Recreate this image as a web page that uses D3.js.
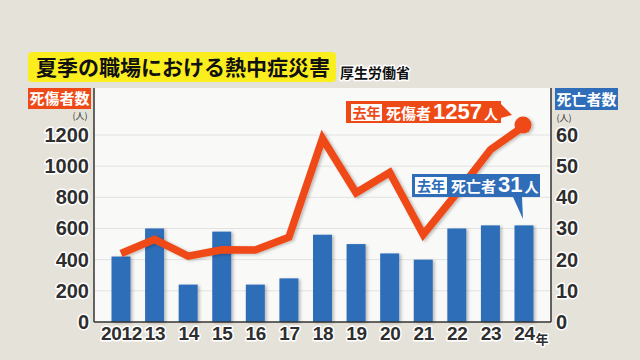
<!DOCTYPE html>
<html><head><meta charset="utf-8">
<script src="https://cdn.jsdelivr.net/npm/d3@7"></script>
<style>
html,body{margin:0;padding:0;background:#e5e2da;}
svg{display:block;font-family:"Noto Sans CJK JP","Noto Sans",sans-serif;}
.halo{paint-order:stroke;stroke:#fff;stroke-width:3px;stroke-linejoin:round;}
</style></head>
<body>
<svg id="c" width="640" height="360"></svg>
<script>
const years = ["2012","13","14","15","16","17","18","19","20","21","22","23","24"];
const casualties = [440,530,423,464,462,544,1178,829,959,561,827,1106,1257];
const deaths = [21,30,12,29,12,14,28,25,22,20,30,31,31];
const leftTicks = [0,200,400,600,800,1000,1200];
const rightTicks = [0,10,20,30,40,50,60];
const title = "夏季の職場における熱中症災害";
const source = "厚生労働省";

const svg = d3.select("#c");
const W = 640, H = 360;
const plot = {l:94, r:551, t:88, b:322};
const ORANGE = "#ee4a17", BLUE = "#2f6db8";
const NUMFONT = "'Liberation Sans',Arial,sans-serif";

svg.append("rect").attr("width",W).attr("height",H).attr("fill","#e5e2da");

const defs = svg.append("defs");
const f = defs.append("filter").attr("id","sh").attr("x","-20%").attr("y","-20%").attr("width","160%").attr("height","160%");
f.append("feDropShadow").attr("dx",2).attr("dy",1).attr("stdDeviation",1.5).attr("flood-color","#000").attr("flood-opacity",0.25);

const x = d3.scalePoint().domain(years).range([121,524]);
const yL = d3.scaleLinear().domain([0,1200]).range([322,135]);
const yR = d3.scaleLinear().domain([0,60]).range([322,135]);

svg.append("rect").attr("x",plot.l).attr("y",plot.t).attr("width",plot.r-plot.l).attr("height",plot.b-plot.t).attr("fill","#f9f9f8");

svg.append("g").selectAll("line").data(leftTicks.filter(d=>d>0)).join("line")
  .attr("x1",plot.l).attr("x2",plot.r).attr("y1",d=>yL(d)).attr("y2",d=>yL(d))
  .attr("stroke","#e2e2e2").attr("stroke-width",1);

const bw = 19;
svg.append("g").attr("filter","url(#sh)").selectAll("rect").data(deaths).join("rect")
  .attr("x",(d,i)=>x(years[i])-bw/2).attr("width",bw)
  .attr("y",d=>yR(d)).attr("height",d=>yR(0)-yR(d)).attr("fill",BLUE);

const line = d3.line().x((d,i)=>x(years[i])).y(d=>yL(d));
const lg = svg.append("g").attr("filter","url(#sh)");
lg.append("path").datum(casualties).attr("d",line).attr("fill","none")
  .attr("stroke",ORANGE).attr("stroke-width",7.5).attr("stroke-linejoin","miter").attr("stroke-linecap","butt");
lg.append("circle").attr("cx",x(years[years.length-1])-1).attr("cy",yL(casualties[casualties.length-1])-1).attr("r",8.5).attr("fill",ORANGE);

svg.append("line").attr("x1",plot.l).attr("x2",plot.l).attr("y1",plot.t).attr("y2",plot.b).attr("stroke","#333").attr("stroke-width",1.5);
svg.append("line").attr("x1",plot.r).attr("x2",plot.r).attr("y1",plot.t).attr("y2",plot.b).attr("stroke","#333").attr("stroke-width",1.5);
svg.append("line").attr("x1",plot.l).attr("x2",plot.r).attr("y1",plot.b).attr("y2",plot.b).attr("stroke","#333").attr("stroke-width",1.5);

function styleTicks(sel, size){
  sel.selectAll("text").attr("class","halo").attr("font-size",size).attr("font-weight",700)
    .attr("fill","#2e2e2e").attr("font-family",NUMFONT);
}
const axL = svg.append("g").attr("transform",`translate(${plot.l},0)`)
  .call(d3.axisLeft(yL).tickValues(leftTicks).tickFormat(d3.format("d")).tickSize(0).tickPadding(5));
axL.select(".domain").remove();
styleTicks(axL, 20);

const axR = svg.append("g").attr("transform",`translate(${plot.r},0)`)
  .call(d3.axisRight(yR).tickValues(rightTicks).tickFormat(d3.format("d")).tickSize(0).tickPadding(5));
axR.select(".domain").remove();
styleTicks(axR, 20);

const axB = svg.append("g").attr("transform",`translate(0,${plot.b})`)
  .call(d3.axisBottom(x).tickSize(0).tickPadding(5));
axB.select(".domain").remove();
styleTicks(axB, 19);
axB.selectAll("text").attr("letter-spacing","-0.3");
svg.append("text").attr("class","halo").attr("x",542).attr("y",344).attr("text-anchor","middle")
  .attr("font-size",13).attr("font-weight",700).attr("fill","#2e2e2e").text("年");

svg.append("text").attr("x",80).attr("y",119).attr("text-anchor","middle").attr("font-size",9).attr("fill","#333").text("(人)");
svg.append("text").attr("x",564).attr("y",121).attr("text-anchor","middle").attr("font-size",9).attr("fill","#333").text("(人)");

svg.append("rect").attr("x",28).attr("y",88).attr("width",63).attr("height",21).attr("fill",ORANGE);
svg.append("text").attr("x",59.5).attr("y",104).attr("text-anchor","middle").attr("font-size",15).attr("font-weight",700).attr("fill","#fff").text("死傷者数");
svg.append("rect").attr("x",555).attr("y",88).attr("width",63).attr("height",22).attr("fill",BLUE);
svg.append("text").attr("x",586.5).attr("y",104.5).attr("text-anchor","middle").attr("font-size",15).attr("font-weight",700).attr("fill","#fff").text("死亡者数");

svg.append("rect").attr("x",28).attr("y",52).attr("width",308).attr("height",30).attr("rx",4).attr("fill","#fbee1f");
svg.append("text").attr("x",36).attr("y",75).attr("font-size",21).attr("font-weight",700).attr("fill","#111").text(title);
svg.append("text").attr("class","halo").attr("x",340).attr("y",78).attr("font-size",14).attr("font-weight",700).attr("fill","#111").text(source);

const oc = svg.append("g");
oc.append("path").attr("d","M346,101 H501 V104 L512,115 L501,118 V123 H346 Z").attr("fill",ORANGE);
oc.append("rect").attr("x",351).attr("y",104).attr("width",31).attr("height",17).attr("fill","#fff");
oc.append("text").attr("x",366.5).attr("y",117.5).attr("text-anchor","middle").attr("font-size",14).attr("font-weight",700).attr("fill",ORANGE).text("去年");
oc.append("text").attr("x",386).attr("y",119).attr("font-weight",700).attr("fill","#fff")
  .call(t=>{
    t.append("tspan").attr("font-size",15).text("死傷者");
    t.append("tspan").attr("font-size",22).attr("dx",2).attr("font-family",NUMFONT).text(String(casualties[casualties.length-1]));
    t.append("tspan").attr("font-size",14).attr("dx",2).text("人");
  });

const bc = svg.append("g");
bc.append("path").attr("d","M412,174 H540 V197 H522 L523,219 L513,197 H412 Z").attr("fill",BLUE);
bc.append("rect").attr("x",415).attr("y",177).attr("width",32).attr("height",17).attr("fill","#fff");
bc.append("text").attr("x",431).attr("y",190.5).attr("text-anchor","middle").attr("font-size",14).attr("font-weight",700).attr("fill",BLUE).text("去年");
bc.append("text").attr("x",451).attr("y",192).attr("font-weight",700).attr("fill","#fff")
  .call(t=>{
    t.append("tspan").attr("font-size",15).text("死亡者");
    t.append("tspan").attr("font-size",22).attr("dx",2).attr("font-family",NUMFONT).text(String(deaths[deaths.length-1]));
    t.append("tspan").attr("font-size",14).attr("dx",2).text("人");
  });
</script>
</body></html>
